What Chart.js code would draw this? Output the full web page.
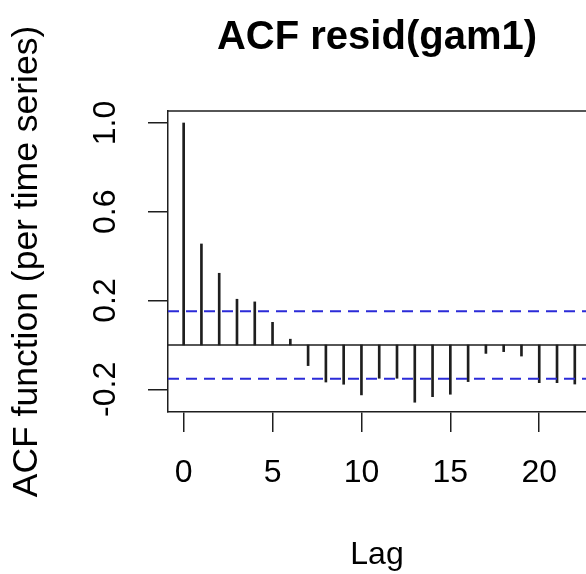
<html>
<head>
<meta charset="UTF-8" />
<title>ACF resid(gam1)</title>
<style type="text/css">
    html, body {
        margin: 0;
        padding: 0;
        background: #ffffff;
    }
    #acfChart {
        display: block;
    }
</style>
</head>
<body>
<canvas id="acfChart" width="586" height="574" aria-label="ACF chart" role="img"></canvas>
<script src="https://cdn.jsdelivr.net/npm/chart.js"></script>
<script>
    // data
    const lags = [0, 1, 2, 3, 4, 5, 6, 7, 8, 9, 10, 11, 12, 13, 14, 15, 16, 17, 18, 19, 20, 21, 22];
    const acfValues = [1.0, 0.455, 0.323, 0.206, 0.194, 0.102, 0.026, -0.093, -0.167, -0.177, -0.225,
        -0.150, -0.150, -0.258, -0.233, -0.222, -0.165, -0.038, -0.030, -0.050, -0.170, -0.170, -0.176];
    const ciBound = 0.152;
    const xTicks = [0, 5, 10, 15, 20];
    const yTicks = [-0.2, 0, 0.2, 0.4, 0.6, 0.8, 1.0];
    const yTickLabels = ['-0.2', '', '0.2', '', '0.6', '', '1.0'];

    const xMin = -0.88, xMax = 22.63;
    const yMin = -0.302, yMax = 1.054;
    const fontFamily = '"Liberation Sans", Arial, Helvetica, sans-serif';
    const ink = '#1e1e1e';

    const stems = lags.map((l, i) => ({x: l, y: acfValues[i]}));
    const hline = (v) => [{x: xMin, y: v}, {x: xMax, y: v}];

    // top edge of the box (left/bottom come from the axes)
    const boxTop = {
        id: 'boxTop',
        afterDraw(chart) {
            const a = chart.chartArea;
            const c = chart.ctx;
            c.save();
            c.strokeStyle = ink;
            c.lineWidth = 1.5;
            c.beginPath();
            c.moveTo(a.left, a.top);
            c.lineTo(a.right + 2, a.top);
            c.stroke();
            c.restore();
        }
    };

    const ctx = document.getElementById('acfChart');
    new Chart(ctx, {
        type: 'bar',
        data: {
            datasets: [{
                type: 'line',
                data: hline(0),
                borderColor: ink,
                borderWidth: 1.5,
                pointRadius: 0,
                order: 3,
            }, {
                type: 'line',
                data: hline(ciBound),
                borderColor: '#2b2bd8',
                borderWidth: 2,
                borderDash: [11, 7],
                pointRadius: 0,
                order: 1,
            }, {
                type: 'line',
                data: hline(-ciBound),
                borderColor: '#2b2bd8',
                borderWidth: 2,
                borderDash: [11, 7],
                pointRadius: 0,
                order: 1,
            }, {
                type: 'bar',
                data: stems,
                backgroundColor: ink,
                borderWidth: 0,
                barThickness: 2,
                grouped: false,
                order: 2,
            }]
        },
        options: {
            responsive: false,
            animation: false,
            layout: { padding: 0 },
            plugins: {
                legend: { display: false },
                tooltip: { enabled: false },
                title: {
                    display: true,
                    text: 'ACF resid(gam1)',
                    color: '#000',
                    fullSize: false,
                    font: { family: fontFamily, size: 40, weight: 'bold', lineHeight: 1.2 },
                    padding: { top: 14, bottom: 49 },
                },
            },
            scales: {
                x: {
                    type: 'linear',
                    min: xMin,
                    max: xMax,
                    offset: false,
                    afterBuildTicks: (s) => { s.ticks = xTicks.map(v => ({value: v})); },
                    afterFit: (s) => { s.height = 162; },
                    grid: { offset: false, drawOnChartArea: false, drawTicks: true, tickLength: 20, color: ink, lineWidth: 1.5 },
                    border: { display: true, color: ink, width: 1.5 },
                    ticks: {
                        color: '#000',
                        padding: 22,
                        maxRotation: 0,
                        font: { family: fontFamily, size: 32, lineHeight: 1.2 },
                        callback: (v) => String(v),
                    },
                    title: {
                        display: true,
                        text: 'Lag',
                        color: '#000',
                        font: { family: fontFamily, size: 32, lineHeight: 1.2 },
                        padding: { top: 0, bottom: 0 },
                    },
                },
                y: {
                    type: 'linear',
                    min: yMin,
                    max: yMax,
                    afterBuildTicks: (s) => { s.ticks = yTicks.map(v => ({value: v})); },
                    afterFit: (s) => { s.width = 168; },
                    grid: { drawOnChartArea: false, drawTicks: true, tickLength: 20, color: ink, lineWidth: 1.5 },
                    border: { display: true, color: ink, width: 1.5 },
                    ticks: {
                        color: '#000',
                        padding: 14,
                        minRotation: 90,
                        maxRotation: 90,
                        crossAlign: 'center',
                        font: { family: fontFamily, size: 32, lineHeight: 1.2 },
                        callback: (v, i) => yTickLabels[i],
                    },
                    title: {
                        display: true,
                        text: 'ACF function (per time series)',
                        color: '#000',
                        font: { family: fontFamily, size: 35.5, lineHeight: 1.2 },
                        padding: { top: 6, bottom: 0 },
                    },
                },
            },
        },
        plugins: [boxTop],
    });
</script>
</body>
</html>
